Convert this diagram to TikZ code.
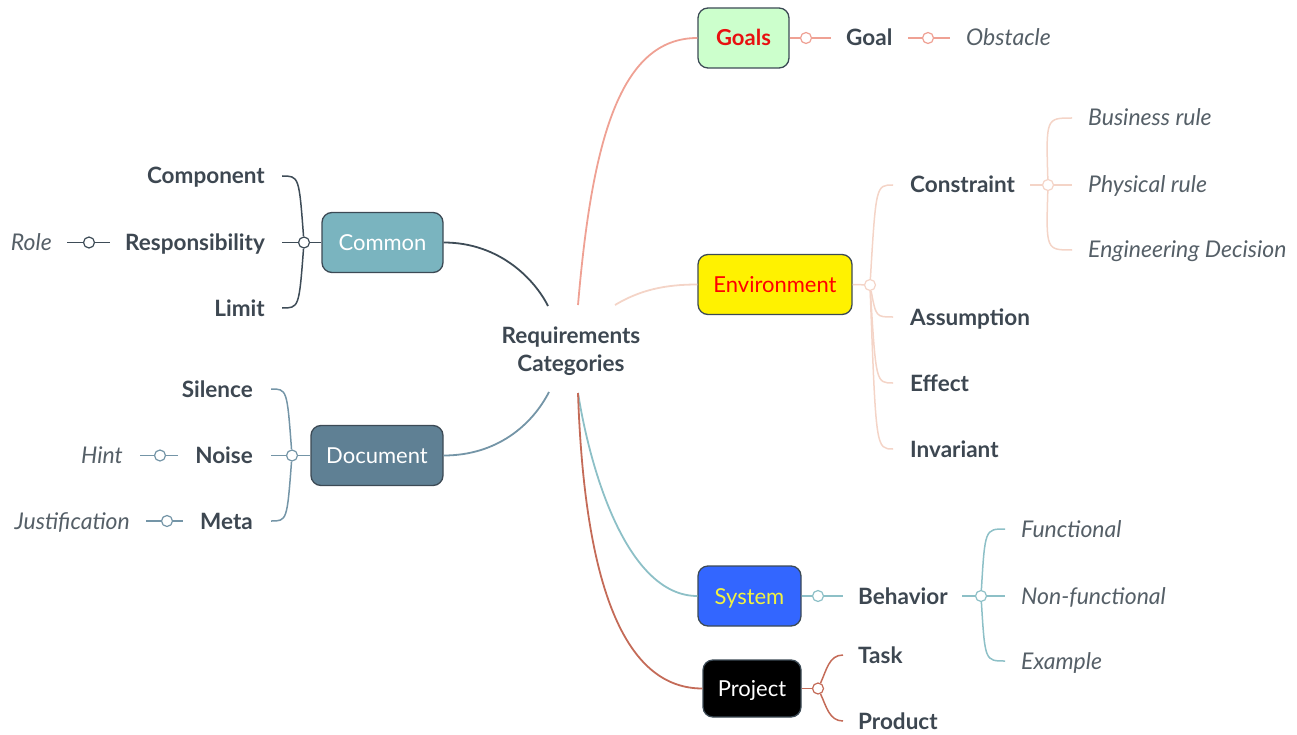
\documentclass[tikz,border=0pt]{standalone}
\usepackage{fontspec}
\setmainfont{Lato}
\usetikzlibrary{positioning, calc}

\definecolor{ink}{HTML}{3D4751}
\definecolor{leafink}{HTML}{555F67}
\definecolor{boxedge}{HTML}{3C4A55}
\definecolor{goalline}{HTML}{EFA194}
\definecolor{envline}{HTML}{F4D4C7}
\definecolor{sysline}{HTML}{8DC0C7}
\definecolor{projline}{HTML}{C46B58}
\definecolor{comline}{HTML}{3E4C57}
\definecolor{docline}{HTML}{7495A7}
\definecolor{goalfill}{HTML}{CCFFCC}
\definecolor{comfill}{HTML}{7AB4BF}
\definecolor{docfill}{HTML}{5F8094}
\definecolor{sysfill}{HTML}{3366FF}
\definecolor{goaltext}{HTML}{E81010}
\definecolor{systext}{HTML}{F2F240}

\tikzset{
	cat/.style={draw=boxedge, line width=1.3pt, rounded corners=10pt, minimum height=60pt,
		inner xsep=0pt, text height=16pt, text depth=0pt, font=\fontsize{22}{26}\selectfont},
	topic/.style={text=ink, inner sep=0pt, text height=16pt, text depth=0pt,
		font=\fontsize{22.5}{27}\selectfont\bfseries},
	leaf/.style={text=leafink, inner sep=0pt, text height=16pt, text depth=0pt,
		font=\fontsize{23}{27}\selectfont\itshape},
	joint/.style={circle, fill=white, line width=1.2pt, inner sep=0pt, minimum size=11pt},
	branch/.style={line width=1.5pt},
	trunk/.style={line width=1.8pt},
}

\begin{document}
\begin{tikzpicture}[x=1pt, y=-1pt]
	\useasboundingbox (0,0) rectangle (1297,735);

	% central topic
	\node[text=ink, inner sep=0pt, align=center, font=\fontsize{22.5}{28}\selectfont\bfseries] (req) at (571,351) {Requirements\\Categories};
	\coordinate (hubNW) at (548,306);
	\coordinate (hubN) at (578,305);
	\coordinate (hubNE) at (615,305);
	\coordinate (hubSW) at (549,392);
	\coordinate (hubS) at (578,393);

	% categories
	\node[cat, fill=goalfill, minimum width=91pt, text=goaltext, font=\fontsize{22}{26}\selectfont\bfseries] (goals) at (743.5,38) {Goals};
	\node[cat, fill=yellow, minimum width=154pt, text=red] (environment) at (775,284.5) {Environment};
	\node[cat, fill=sysfill, minimum width=103pt, text=systext] (system) at (749.5,596) {System};
	\node[cat, fill=black, minimum width=98pt, minimum height=57pt, text=white] (project) at (752,688.5) {Project};
	\node[cat, fill=comfill, minimum width=121pt, text=white] (common) at (382.5,242.5) {Common};
	\node[cat, fill=docfill, minimum width=132pt, text=white] (document) at (377,455.5) {Document};

	\draw[trunk, goalline] (hubN) .. controls (592,140) and (620,38) .. (goals.west);
	\draw[trunk, envline] (hubNE) .. controls (640,290) and (665,284.5) .. (environment.west);
	\draw[trunk, sysline] (hubS) .. controls (592,480) and (630,596) .. (system.west);
	\draw[trunk, projline] (hubS) .. controls (585,600) and (630,688.5) .. (project.west);
	\draw[trunk, comline] (hubNW) .. controls (535,280) and (500,242.5) .. (common.east);
	\draw[trunk, docline] (hubSW) .. controls (532,425) and (497,455.5) .. (document.east);

	% goals
	\node[joint, draw=goalline] (gj1) at (806,38) {};
	\node[topic, anchor=west] (goal) at (846,38) {Goal};
	\node[joint, draw=goalline] (gj2) at (928,38) {};
	\node[leaf, anchor=west] (obstacle) at (966,38) {Obstacle};
	\draw[branch, goalline] (goals.east) -- (gj1) -- ([xshift=-15pt]goal.west);
	\draw[branch, goalline] (goal.east -| 908,0) -- (gj2) -- ([xshift=-16pt]obstacle.west);

	% environment
	\node[joint, draw=envline] (ej) at (870,285) {};
	\node[topic, anchor=west] (constraint) at (910,185) {Constraint};
	\node[topic, anchor=west] (assumption) at (910,317) {Assumption};
	\node[topic, anchor=west] (effect) at (910,383) {Effect};
	\node[topic, anchor=west] (invariant) at (910,449) {Invariant};
	\draw[branch, envline] (environment.east) -- (ej);
	\draw[branch, envline] (ej) .. controls ([xshift=6pt]ej |- constraint.west) .. ([xshift=-17pt]constraint.west);
	\draw[branch, envline] (ej) .. controls ([xshift=6pt]ej |- assumption.west) .. ([xshift=-17pt]assumption.west);
	\draw[branch, envline] (ej) .. controls ([xshift=6pt]ej |- effect.west) .. ([xshift=-17pt]effect.west);
	\draw[branch, envline] (ej) .. controls ([xshift=6pt]ej |- invariant.west) .. ([xshift=-17pt]invariant.west);

	\node[joint, draw=envline] (cj) at (1048,185) {};
	\node[leaf, anchor=west] (business) at (1088,118) {Business rule};
	\node[leaf, anchor=west] (physical) at (1088,185) {Physical rule};
	\node[leaf, anchor=west] (engineering) at (1088,250) {Engineering Decision};
	\draw[branch, envline] (constraint.east -| 1030,0) -- (cj) -- ([xshift=-16pt]physical.west);
	\draw[branch, envline] (cj) .. controls ([xshift=-2pt]cj |- business.west) .. ([xshift=-16pt]business.west);
	\draw[branch, envline] (cj) .. controls ([xshift=-2pt]cj |- engineering.west) .. ([xshift=-16pt]engineering.west);

	% system
	\node[joint, draw=sysline] (sj) at (818,596) {};
	\node[topic, anchor=west] (behavior) at (858,596) {Behavior};
	\node[joint, draw=sysline] (bj) at (981,596) {};
	\node[leaf, anchor=west] (functional) at (1021,529) {Functional};
	\node[leaf, anchor=west] (nonfunctional) at (1021,596) {Non-functional};
	\node[leaf, anchor=west] (example) at (1021,661) {Example};
	\draw[branch, sysline] (system.east) -- (sj) -- ([xshift=-15pt]behavior.west);
	\draw[branch, sysline] (behavior.east -| 962,0) -- (bj) -- ([xshift=-16pt]nonfunctional.west);
	\draw[branch, sysline] (bj) .. controls ([xshift=4pt]bj |- functional.west) .. ([xshift=-16pt]functional.west);
	\draw[branch, sysline] (bj) .. controls ([xshift=4pt]bj |- example.west) .. ([xshift=-16pt]example.west);

	% project
	\node[joint, draw=projline] (pj) at (818,688.5) {};
	\node[topic, anchor=west] (task) at (858,655) {Task};
	\node[topic, anchor=west] (product) at (858,721) {Product};
	\draw[branch, projline] (project.east) -- (pj);
	\draw[branch, projline] (pj) to[out=65, in=180] ([xshift=-15pt]task.west);
	\draw[branch, projline] (pj) to[out=-65, in=180] ([xshift=-15pt]product.west);

	% common
	\node[joint, draw=comline] (mj) at (304,242.5) {};
	\node[topic, anchor=east] (component) at (265,176) {Component};
	\node[topic, anchor=east] (responsibility) at (265,242.5) {Responsibility};
	\node[topic, anchor=east] (limit) at (265,308) {Limit};
	\draw[branch, comline] (common.west) -- (mj) -- ([xshift=17pt]responsibility.east);
	\draw[branch, comline] (mj) .. controls ([xshift=-5pt]mj |- component.east) .. ([xshift=17pt]component.east);
	\draw[branch, comline] (mj) .. controls ([xshift=-5pt]mj |- limit.east) .. ([xshift=17pt]limit.east);
	\node[joint, draw=comline] (rj) at (89,242.5) {};
	\node[leaf, anchor=east] (role) at (52,242.5) {Role};
	\draw[branch, comline] ([xshift=-15pt]responsibility.west) -- (rj) -- ([xshift=15pt]role.east);

	% document
	\node[joint, draw=docline] (dj) at (292,455.5) {};
	\node[topic, anchor=east] (silence) at (253,389) {Silence};
	\node[topic, anchor=east] (noise) at (253,455.5) {Noise};
	\node[topic, anchor=east] (meta) at (253,521) {Meta};
	\draw[branch, docline] (document.west) -- (dj) -- ([xshift=18pt]noise.east);
	\draw[branch, docline] (dj) .. controls ([xshift=-5pt]dj |- silence.east) .. ([xshift=18pt]silence.east);
	\draw[branch, docline] (dj) .. controls ([xshift=-5pt]dj |- meta.east) .. ([xshift=18pt]meta.east);
	\node[joint, draw=docline] (hj) at (160,455.5) {};
	\node[leaf, anchor=east] (hint) at (123,455.5) {Hint};
	\draw[branch, docline] ([xshift=-17pt]noise.west) -- (hj) -- ([xshift=17pt]hint.east);
	\node[joint, draw=docline] (jj) at (167,521) {};
	\node[leaf, anchor=east] (justification) at (130,521) {Justification};
	\draw[branch, docline] ([xshift=-17pt]meta.west) -- (jj) -- ([xshift=16pt]justification.east);
\end{tikzpicture}
\end{document}
